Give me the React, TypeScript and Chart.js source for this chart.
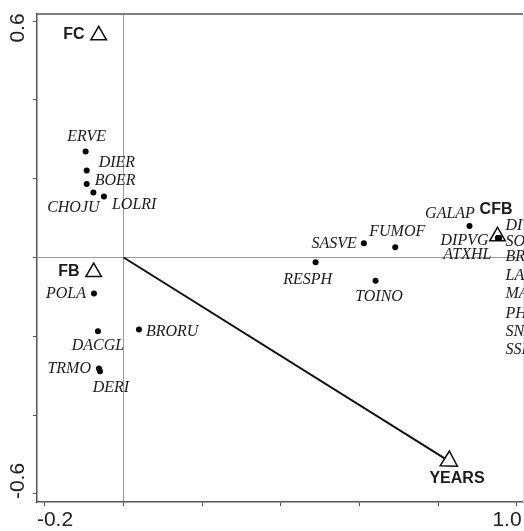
import React, { useEffect, useRef } from 'react';
import { Chart, registerables } from 'chart.js';

Chart.register(...registerables);

// ---- Data (CCA biplot scores) ----
const speciesNames = [
  'ERVE', 'DIER', 'BOER', 'CHOJU', 'LOLRI', 'POLA', 'DACGL', 'BRORU', 'TRMO', 'DERI',
  'RESPH', 'SASVE', 'FUMOF', 'TOINO', 'GALAP',
  'DIPVG', 'ATXHL', 'DITVI', 'SONOL', 'BRAFR', 'LACSE', 'MALSY', 'PHAMI', 'SNAPO', 'SSILM',
];
const speciesX = [
  -0.0966, -0.094, -0.094, -0.077, -0.0501, -0.0755, -0.0653, 0.0389, -0.0628, -0.0602,
  0.488, 0.6107, 0.6905, 0.6404, 0.8793,
  0.953, 0.953, 0.953, 0.953, 0.953, 0.953, 0.953, 0.953, 0.953, 0.953,
];
const speciesY = [
  0.2689, 0.2206, 0.1868, 0.1647, 0.1545, -0.091, -0.1868, -0.1825, -0.2816, -0.2884,
  -0.0122, 0.0361, 0.0259, -0.059, 0.08,
  0.0496, 0.0496, 0.0496, 0.0496, 0.0496, 0.0496, 0.0496, 0.0496, 0.0496, 0.0496,
];

const envNames = ['FC', 'FB', 'CFB'];
const envX = [-0.0635, -0.0762, 0.9505];
const envY = [0.5637, -0.0368, 0.0539];

const arrowName = 'YEARS';
const arrowX = 0.8272;
const arrowY = -0.5164;

const xTickValues = [-0.2, 0, 0.2, 0.4, 0.6, 0.8, 1.0];
const yTickValues = [-0.6, -0.4, -0.2, 0, 0.2, 0.4, 0.6];
const xTickLabelValues = [-0.2, 1.0];
const xTickLabels = ['-0.2', '1.0'];
const yTickLabelValues = [0.6, -0.6];
const yTickLabels = ['0.6', '-0.6'];

// ---- Label placement (pixel offsets from marks) ----
const speciesLabelDx = [
  1, 12, 8, -20, 8, -8, 0, 7, -8, 11,
  -8, -7, 2, 3.5, -19.5,
  -10, -7, 7, 7, 7, 7, 7, 7, 7, 7,
];
const speciesLabelDy = [
  -15, -8, -3, 15, 8, 0, 15, 2, 0, 17,
  17, 1, -16, 16, -12,
  3, 17, -12, 4, 19, 37.5, 56, 76, 94, 112,
];
const speciesLabelAlign: CanvasTextAlign[] = [
  'center', 'left', 'left', 'center', 'left', 'right', 'center', 'left', 'right', 'center',
  'center', 'right', 'center', 'center', 'center',
  'right', 'right', 'left', 'left', 'left', 'left', 'left', 'left', 'left', 'left',
];
const envLabelDx = [-14, -14, -1.5];
const envLabelDy = [-0.5, 0, -27];
const envLabelAlign: CanvasTextAlign[] = ['right', 'right', 'center'];
const arrowLabelDx = 8;
const arrowLabelDy = 18;
const xTickLabelDx = [10, -10];
const yTickLabelDy = [7, -13];

const SERIF_ITALIC = 'italic 16px "Liberation Serif", "Times New Roman", serif';
const SANS_BOLD = 'bold 16px "Liberation Sans", Arial, sans-serif';
const TICK_FONT = '21px "Liberation Sans", Arial, sans-serif';

const labelsPlugin = {
  id: 'biplotLabels',
  afterDatasetsDraw(chart: any) {
    const { ctx, scales, chartArea } = chart;
    const xs = scales.x;
    const ys = scales.y;
    ctx.save();
    // top border and faint right border
    ctx.strokeStyle = '#555';
    ctx.lineWidth = 1.5;
    ctx.beginPath();
    ctx.moveTo(chartArea.left, chartArea.top);
    ctx.lineTo(chartArea.right, chartArea.top);
    ctx.stroke();
    ctx.strokeStyle = '#e2e2e2';
    ctx.lineWidth = 1;
    ctx.beginPath();
    ctx.moveTo(chartArea.right + 0.5, chartArea.top);
    ctx.lineTo(chartArea.right + 0.5, chartArea.bottom);
    ctx.stroke();

    ctx.textBaseline = 'middle';
    ctx.fillStyle = '#1a1a1a';
    ctx.font = SERIF_ITALIC;
    speciesNames.forEach((name, i) => {
      const px = xs.getPixelForValue(speciesX[i]);
      const py = ys.getPixelForValue(speciesY[i]);
      ctx.textAlign = speciesLabelAlign[i];
      ctx.fillText(name, px + speciesLabelDx[i], py + speciesLabelDy[i]);
    });
    ctx.font = SANS_BOLD;
    envNames.forEach((name, i) => {
      const px = xs.getPixelForValue(envX[i]);
      const py = ys.getPixelForValue(envY[i]);
      ctx.textAlign = envLabelAlign[i];
      ctx.fillText(name, px + envLabelDx[i], py + envLabelDy[i]);
    });
    ctx.textAlign = 'center';
    ctx.fillText(
      arrowName,
      xs.getPixelForValue(arrowX) + arrowLabelDx,
      ys.getPixelForValue(arrowY) + arrowLabelDy
    );

    // tick labels
    ctx.font = TICK_FONT;
    ctx.fillStyle = '#222';
    ctx.textAlign = 'center';
    xTickLabels.forEach((t, i) => {
      ctx.fillText(t, xs.getPixelForValue(xTickLabelValues[i]) + xTickLabelDx[i], chartArea.bottom + 18);
    });
    yTickLabels.forEach((t, i) => {
      const py = ys.getPixelForValue(yTickLabelValues[i]) + yTickLabelDy[i];
      ctx.save();
      ctx.translate(chartArea.left - 19, py);
      ctx.rotate(-Math.PI / 2);
      ctx.fillText(t, 0, 0);
      ctx.restore();
    });
    ctx.restore();
  },
};

export default function App() {
  const ref = useRef<HTMLCanvasElement | null>(null);

  useEffect(() => {
    if (!ref.current) return;
    const arrowRotation = 90 + (Math.atan2(-arrowY, arrowX) * 180) / Math.PI;
    const zeroGrid = (c: any) => (c.tick && c.tick.value === 0 ? '#9a9a9a' : 'rgba(0,0,0,0)');
    const chart = new Chart(ref.current, {
      type: 'scatter',
      data: {
        datasets: [
          {
            label: 'arrow',
            data: [
              { x: 0, y: 0 },
              { x: arrowX, y: arrowY },
            ],
            showLine: true,
            borderColor: '#111',
            borderWidth: 2,
            pointRadius: 0,
            order: 4,
          },
          {
            label: 'arrowhead',
            data: [{ x: arrowX, y: arrowY }],
            pointStyle: 'triangle',
            rotation: arrowRotation,
            pointRadius: 10,
            backgroundColor: '#fff',
            borderColor: '#111',
            borderWidth: 1.5,
            order: 3,
          },
          {
            label: 'env',
            data: envX.map((x, i) => ({ x, y: envY[i] })),
            pointStyle: 'triangle',
            pointRadius: 9,
            backgroundColor: '#fff',
            borderColor: '#111',
            borderWidth: 1.5,
            order: 2,
          },
          {
            label: 'species',
            data: speciesX.map((x, i) => ({ x, y: speciesY[i] })),
            pointStyle: 'circle',
            pointRadius: 3,
            backgroundColor: '#000',
            borderColor: '#000',
            borderWidth: 0,
            order: 1,
          },
        ],
      },
      options: {
        animation: false,
        responsive: false,
        devicePixelRatio: 1,
        layout: { autoPadding: false, padding: { top: 14, right: 1, left: 0, bottom: 0 } },
        plugins: { legend: { display: false }, tooltip: { enabled: false } },
        scales: {
          x: {
            type: 'linear',
            min: -0.2203,
            max: 1.0153,
            afterBuildTicks: (s: any) => {
              s.ticks = xTickValues.map((value) => ({ value }));
            },
            afterFit: (s: any) => {
              s.height = 29;
            },
            ticks: { display: false },
            grid: {
              drawOnChartArea: true,
              drawTicks: true,
              tickLength: 4,
              color: zeroGrid,
              tickColor: '#555',
              lineWidth: 1,
            },
            border: { display: true, color: '#555', width: 1.5 },
          },
          y: {
            type: 'linear',
            min: -0.6203,
            max: 0.6178,
            afterBuildTicks: (s: any) => {
              s.ticks = yTickValues.map((value) => ({ value }));
            },
            afterFit: (s: any) => {
              s.width = 37;
            },
            ticks: { display: false },
            grid: {
              drawOnChartArea: true,
              drawTicks: true,
              tickLength: 4,
              color: zeroGrid,
              tickColor: '#555',
              lineWidth: 1,
            },
            border: { display: true, color: '#555', width: 1.5 },
          },
        },
      } as any,
      plugins: [labelsPlugin],
    });
    return () => chart.destroy();
  }, []);

  return (
    <div style={{ position: 'fixed', left: 0, top: 0, width: 524, height: 531, background: '#fff' }}>
      <canvas ref={ref} width={524} height={531} style={{ width: 524, height: 531, display: 'block' }} />
    </div>
  );
}
